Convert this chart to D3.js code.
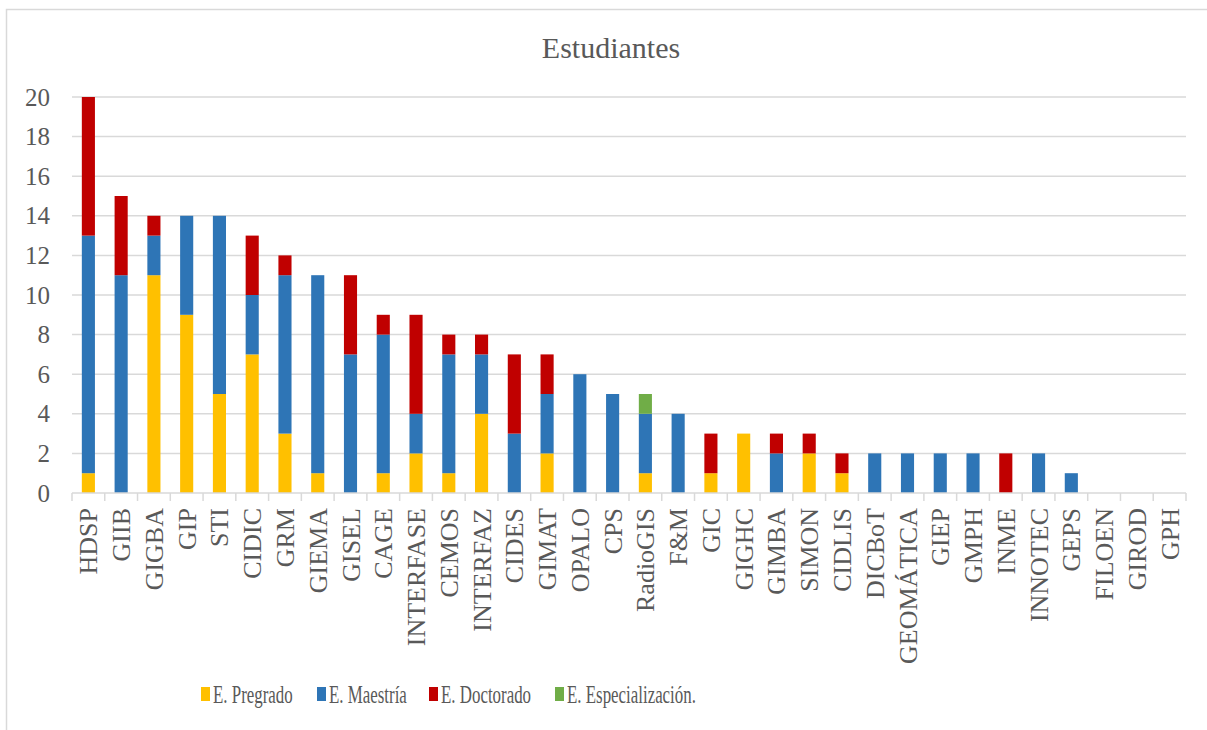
<!DOCTYPE html>
<html>
<head>
<meta charset="utf-8">
<script src="https://cdn.jsdelivr.net/npm/d3@7"></script>
<style>
  html, body { margin: 0; padding: 0; background: #fff; }
  svg { display: block; }
  text { font-family: "Liberation Serif", "DejaVu Serif", serif; fill: #595959; }
</style>
</head>
<body>
<svg id="chart" width="1207" height="730"></svg>
<script>
// Research groups (x-axis categories)
const categories = ["HDSP","GIIB","GIGBA","GIP","STI","CIDIC","GRM","GIEMA","GISEL","CAGE",
  "INTERFASE","CEMOS","INTERFAZ","CIDES","GIMAT","OPALO","CPS","RadioGIS","F&M","GIC",
  "GIGHC","GIMBA","SIMON","CIDLIS","DICBoT","GEOMÁTICA","GIEP","GMPH","INME","INNOTEC",
  "GEPS","FILOEN","GIROD","GPH"];

// Students per group, by level
const pregrado        = [1,0,11,9,5,7,3,1,0,1, 2,1,4,0,2,0,0,1,0,1, 3,0,2,1,0,0,0,0,0,0, 0,0,0,0];
const maestria        = [12,11,2,5,9,3,8,10,7,7, 2,6,3,3,3,6,5,3,4,0, 0,2,0,0,2,2,2,2,0,2, 1,0,0,0];
const doctorado       = [7,4,1,0,0,3,1,0,4,1, 5,1,1,4,2,0,0,0,0,2, 0,1,1,1,0,0,0,0,2,0, 0,0,0,0];
const especializacion = [0,0,0,0,0,0,0,0,0,0, 0,0,0,0,0,0,0,1,0,0, 0,0,0,0,0,0,0,0,0,0, 0,0,0,0];

const seriesNames = ["E. Pregrado","E. Maestría","E. Doctorado","E. Especialización."];
const seriesColors = ["#FFC000","#2E75B6","#C00000","#70AD47"];
const yTicks = [0,2,4,6,8,10,12,14,16,18,20];

(function draw() {
  const keys = ["p","m","d","e"];
  const rows = categories.map((c,i) => ({cat:c, p:pregrado[i], m:maestria[i], d:doctorado[i], e:especializacion[i]}));
  const stacked = d3.stack().keys(keys)(rows);

  const svg = d3.select("#chart");

  // outer frame
  svg.append("rect").attr("x",6.5).attr("y",9.5).attr("width",1220).attr("height",740)
    .attr("fill","none").attr("stroke","#d9d9d9").attr("stroke-width",1.5);

  const plotL = 72, plotR = 1186, plotT = 97, plotB = 493;

  const x = d3.scaleBand().domain(categories).range([plotL,plotR]).paddingInner(0.6).paddingOuter(0.3);
  const y = d3.scaleLinear().domain([0,20]).range([plotB,plotT]);

  // title
  svg.append("text").attr("x",611).attr("y",58).attr("text-anchor","middle")
    .style("font-size","30px").text("Estudiantes");

  // gridlines
  svg.append("g").selectAll("line").data(yTicks.filter(t => t>0)).join("line")
    .attr("x1",plotL).attr("x2",plotR).attr("y1",d=>y(d)).attr("y2",d=>y(d))
    .attr("stroke","#d9d9d9").attr("stroke-width",1.5);

  // y axis labels
  const yAxis = svg.append("g").attr("transform",`translate(${plotL},0)`)
    .call(d3.axisLeft(y).tickValues(yTicks).tickSize(0).tickPadding(22));
  yAxis.select(".domain").remove();
  yAxis.attr("font-family",null);
  yAxis.selectAll("text").style("font-size","25px").attr("fill","#595959");

  // bars
  svg.append("g").selectAll("g").data(stacked).join("g")
    .attr("fill",(d,i)=>seriesColors[i])
    .selectAll("rect").data(d=>d).join("rect")
    .attr("x",d=>x(d.data.cat)).attr("width",x.bandwidth())
    .attr("y",d=>y(d[1])).attr("height",d=>y(d[0])-y(d[1]));

  // x axis line with tick marks at category boundaries
  const step = x.step();
  const bounds = d3.range(categories.length+1).map(i => plotL + i*step);
  const xg = svg.append("g");
  xg.append("line").attr("x1",plotL).attr("x2",plotR).attr("y1",plotB).attr("y2",plotB)
    .attr("stroke","#d9d9d9").attr("stroke-width",1.5);
  xg.selectAll("line.tk").data(bounds).join("line").attr("class","tk")
    .attr("x1",d=>d).attr("x2",d=>d).attr("y1",plotB).attr("y2",plotB+8)
    .attr("stroke","#d9d9d9").attr("stroke-width",1.5);

  // rotated category labels
  xg.selectAll("text").data(categories).join("text")
    .attr("transform",d=>`translate(${x(d)+x.bandwidth()/2+9},${plotB+15}) rotate(-90)`)
    .attr("text-anchor","end").style("font-size","26px").text(d=>d);

  // legend
  const legendX = [201,317,429,555];
  const lg = svg.append("g").attr("transform","translate(0,703)");
  seriesNames.forEach((n,i) => {
    lg.append("rect").attr("x",legendX[i]).attr("y",-16).attr("width",9).attr("height",14).attr("fill",seriesColors[i]);
    lg.append("text").attr("transform",`translate(${legendX[i]+12},0) scale(0.65,1)`)
      .style("font-size","26px").text(n);
  });
})();
</script>
</body>
</html>
